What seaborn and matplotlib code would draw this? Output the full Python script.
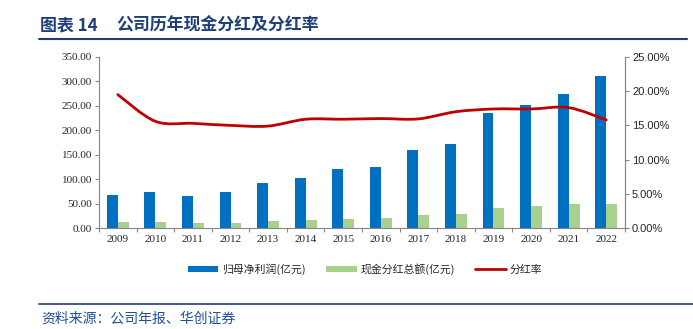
import numpy as np
import pandas as pd
import matplotlib
matplotlib.use("Agg")
import matplotlib.pyplot as plt
import seaborn as sns
from matplotlib.path import Path
from matplotlib.patches import PathPatch, Patch
from matplotlib.lines import Line2D
from matplotlib.ticker import FuncFormatter, MultipleLocator, FixedLocator

years = ["2009", "2010", "2011", "2012", "2013", "2014", "2015", "2016",
         "2017", "2018", "2019", "2020", "2021", "2022"]
net_profit = [68.5, 73.0, 66.5, 73.0, 93.0, 103.0, 121.5, 124.5,
              160.0, 171.0, 236.0, 251.0, 275.0, 311.5]
cash_dividend = [13.0, 11.7, 9.7, 11.0, 13.7, 16.4, 19.2, 19.9,
                 26.0, 28.7, 41.0, 44.5, 48.6, 49.0]
payout_ratio = [19.5, 15.6, 15.3, 15.0, 14.9, 15.9, 15.9, 16.0,
                15.95, 17.0, 17.4, 17.4, 17.6, 15.8]

s_profit = "归母净利润(亿元)"
s_div = "现金分红总额(亿元)"
s_ratio = "分红率"

BLUE = "#0070C0"
GREEN = "#A9D18E"
RED = "#C00000"
NAVY = "#1F3F77"
GRID = "#868686"

sns.set_theme(style="white")
plt.rcParams['font.family'] = ['Liberation Serif', 'Noto Sans CJK SC', 'DejaVu Sans']
CJK = ['Noto Sans CJK SC', 'DejaVu Sans']

df = pd.DataFrame({
    "year": years * 2,
    "value": net_profit + cash_dividend,
    "series": [s_profit] * len(years) + [s_div] * len(years),
})

fig = plt.figure(figsize=(6.93, 3.29), dpi=100)
ax = fig.add_axes([99 / 693, 1 - 228 / 329, (625 - 99) / 693, (228 - 57) / 329])

sns.barplot(data=df, x="year", y="value", hue="series", order=years,
            hue_order=[s_profit, s_div], palette=[BLUE, GREEN], saturation=1,
            width=0.58, gap=0, dodge=True, ax=ax, legend=False,
            edgecolor="none", linewidth=0)

ax.set_xlim(-0.5, len(years) - 0.5)
ax.set_ylim(0, 350)
ax.yaxis.set_major_locator(MultipleLocator(50))
ax.yaxis.set_major_formatter(FuncFormatter(lambda v, p: f"{v:.2f}"))
ax.set_xlabel("")
ax.set_ylabel("")
ax.tick_params(axis="y", which="major", direction="out", length=3, width=0.8,
               color=GRID, labelsize=8, pad=2, left=True)
ax.tick_params(axis="x", which="major", length=0, labelsize=8, pad=5)
ax.xaxis.set_minor_locator(FixedLocator(np.arange(-0.5, len(years), 1.0)))
ax.tick_params(axis="x", which="minor", direction="out", length=3, width=0.8,
               color=GRID, bottom=True)
ax.spines["top"].set_visible(False)
for side in ["left", "bottom", "right"]:
    ax.spines[side].set_color(GRID)
    ax.spines[side].set_linewidth(0.8)
ax.grid(False)

ax2 = ax.twinx()
ax2.set_ylim(0, 25)
ax2.yaxis.set_major_locator(MultipleLocator(5))
ax2.yaxis.set_major_formatter(FuncFormatter(lambda v, p: f"{v:.2f}%"))
ax2.tick_params(axis="y", direction="out", length=3, width=0.8, color=GRID,
                labelsize=8, pad=2, right=True)
for lab in ax2.get_yticklabels():
    lab.set_family(['Liberation Sans', 'DejaVu Sans'])
for side in ["top", "left", "bottom"]:
    ax2.spines[side].set_visible(False)
ax2.spines["right"].set_color(GRID)
ax2.spines["right"].set_linewidth(0.8)
ax2.grid(False)

# smooth (Bezier) rendering of the payout ratio series
xs = np.arange(len(years), dtype=float)
ys = np.array(payout_ratio, dtype=float)
verts = [(xs[0], ys[0])]
codes = [Path.MOVETO]
n = len(xs)
for i in range(n - 1):
    p0 = np.array([xs[max(i - 1, 0)], ys[max(i - 1, 0)]])
    p1 = np.array([xs[i], ys[i]])
    p2 = np.array([xs[i + 1], ys[i + 1]])
    p3 = np.array([xs[min(i + 2, n - 1)], ys[min(i + 2, n - 1)]])
    c1 = p1 + (p2 - p0) / 6.0
    c2 = p2 - (p3 - p1) / 6.0
    verts += [tuple(c1), tuple(c2), tuple(p2)]
    codes += [Path.CURVE4, Path.CURVE4, Path.CURVE4]
ax2.add_patch(PathPatch(Path(verts, codes), facecolor="none", edgecolor=RED,
                        linewidth=2.0, capstyle="round", joinstyle="round"))

handles = [Patch(facecolor=BLUE, edgecolor="none"),
           Patch(facecolor=GREEN, edgecolor="none"),
           Line2D([0], [0], color=RED, linewidth=2.0)]
leg = fig.legend(handles, [s_profit, s_div, s_ratio], loc="center",
                 bbox_to_anchor=(365 / 693, 1 - 269 / 329), ncol=3,
                 frameon=False, prop={'family': CJK, 'size': 7.8},
                 handlelength=2.8, handleheight=0.4, handletextpad=0.35,
                 columnspacing=1.9, borderpad=0.2)

# title and header line
fig.text(40 / 693, 1 - 25 / 329, "图表 14",
         family=CJK, fontsize=12.2, fontweight="bold", color=NAVY,
         ha="left", va="center")
fig.text(116 / 693, 1 - 25 / 329, "公司历年现金分红及分红率",
         family=CJK, fontsize=12.2, fontweight="bold", color=NAVY,
         ha="left", va="center")
fig.add_artist(Line2D([39 / 693, 687 / 693], [1 - 38.5 / 329, 1 - 38.5 / 329],
                      color=NAVY, linewidth=1.5, transform=fig.transFigure))

# footer line and source
fig.add_artist(Line2D([39 / 693, 693 / 693], [1 - 304 / 329, 1 - 304 / 329],
                      color=NAVY, linewidth=1.2, transform=fig.transFigure))
fig.text(41 / 693, 1 - 319 / 329, "资料来源：公司年报、华创证券",
         family=CJK, fontsize=10, color="#1F4E9A", ha="left", va="center",
         style="italic")

fig.savefig("out.png", dpi=100)
